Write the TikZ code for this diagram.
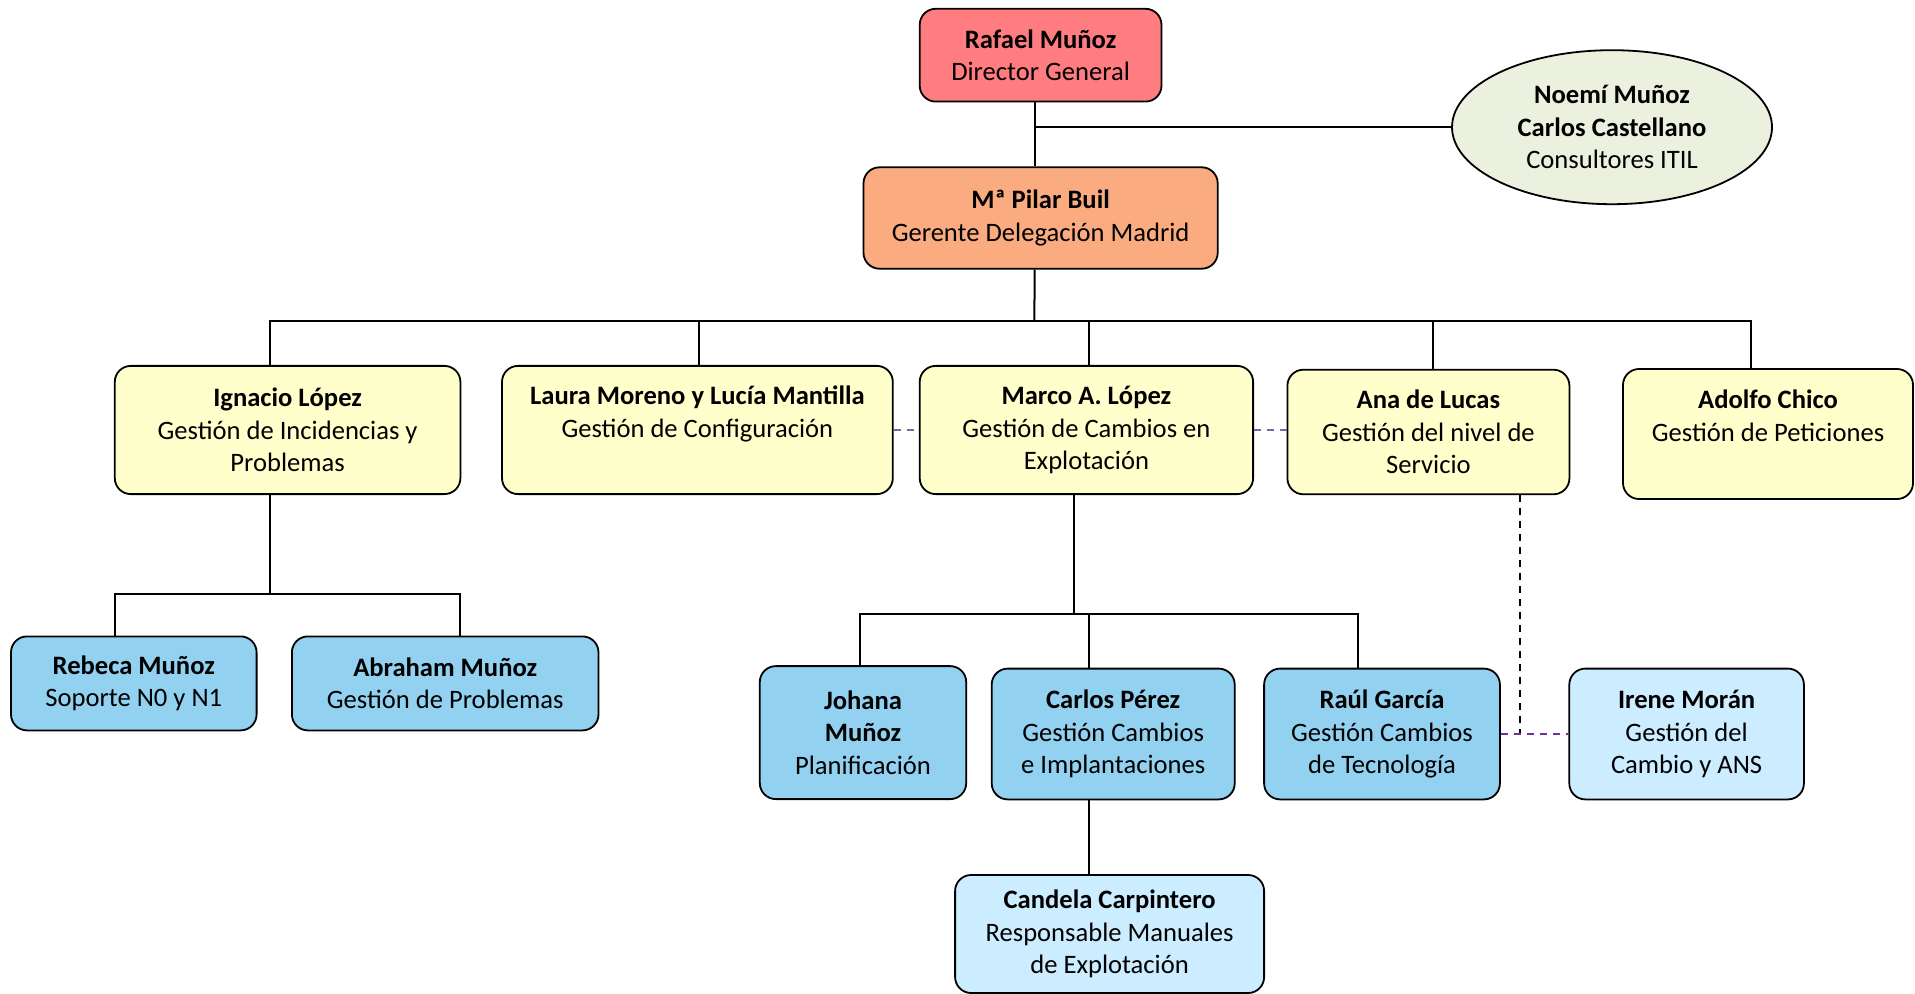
\documentclass[tikz,border=0pt]{standalone}
\usepackage{fontspec}
\setmainfont{Carlito}
\usepackage{tikz}
\usetikzlibrary{positioning,shapes.geometric}

\definecolor{rojoDir}{HTML}{FF7C80}
\definecolor{naranja}{HTML}{FAAC80}
\definecolor{verdeCons}{HTML}{EBF1DE}
\definecolor{amarillo}{HTML}{FFFFCC}
\definecolor{azulOsc}{HTML}{93D1F1}
\definecolor{azulCla}{HTML}{CCECFF}
\definecolor{morado}{HTML}{8064A2}
\definecolor{moradoOsc}{HTML}{7030A0}

\begin{document}
\begin{tikzpicture}[x=1pt, y=-1pt,
    caja/.style={draw, rectangle, rounded corners=8pt, line width=0.9pt, align=center, inner sep=2pt, font=\fontsize{13.3}{16.2}\selectfont},
    linea/.style={line width=1pt},
    enlace/.style={line width=1pt, dash pattern=on 3.5pt off 3pt, morado}]
    \useasboundingbox (0,0) rectangle (957.5,497);
    % Dirección
    \node[caja, fill=rojoDir, minimum width=120.9pt, minimum height=46.4pt] (rafael) at (520.3,27.6) {\textbf{Rafael Muñoz}\\Director General};
    \node[caja, fill=naranja, minimum width=177.1pt, minimum height=50.7pt] (pilar) at (520.3,109) {\textbf{Mª Pilar Buil}\\Gerente Delegación Madrid};
    % Consultores externos
    \node[caja, ellipse, fill=verdeCons, inner sep=0pt, minimum width=160pt, minimum height=77pt] (consult) at (806,63.6) {\textbf{Noemí Muñoz}\\\textbf{Carlos Castellano}\\Consultores ITIL};
    % Responsables de proceso
    \node[caja, fill=amarillo, minimum width=172.8pt, minimum height=64.1pt] (ignacio) at (143.8,215) {\textbf{Ignacio López}\\Gestión de Incidencias y\\Problemas};
    \node[caja, fill=amarillo, minimum width=195.4pt, minimum height=64.1pt] (laura) at (348.7,215) {\textbf{Laura Moreno y Lucía Mantilla}\\Gestión de Configuración\\\vphantom{p}};
    \node[caja, fill=amarillo, minimum width=166.7pt, minimum height=64.1pt] (marco) at (543.2,215) {\textbf{Marco A. López}\\Gestión de Cambios en\\Explotación};
    \node[caja, fill=amarillo, minimum width=141pt, minimum height=62.3pt] (ana) at (714.2,216) {\textbf{Ana de Lucas}\\Gestión del nivel de\\Servicio};
    \node[caja, fill=amarillo, minimum width=145pt, minimum height=65pt] (adolfo) at (884,217) {\textbf{Adolfo Chico}\\Gestión de Peticiones\\\vphantom{p}};
    % Equipo de Ignacio
    \node[caja, fill=azulOsc, minimum width=122.8pt, minimum height=47pt] (rebeca) at (66.9,341.7) {\textbf{Rebeca Muñoz}\\Soporte N0 y N1};
    \node[caja, fill=azulOsc, minimum width=153.3pt, minimum height=47pt] (abraham) at (222.6,341.7) {\textbf{Abraham Muñoz}\\Gestión de Problemas};
    % Equipo de Marco
    \node[caja, fill=azulOsc, minimum width=103.2pt, minimum height=66.5pt] (johana) at (431.5,366.3) {\textbf{Johana}\\\textbf{Muñoz}\\Planificación};
    \node[caja, fill=azulOsc, minimum width=121.5pt, minimum height=65.4pt] (carlos) at (556.6,367) {\textbf{Carlos Pérez}\\Gestión Cambios\\e Implantaciones};
    \node[caja, fill=azulOsc, minimum width=117.9pt, minimum height=65.4pt] (raul) at (691,367) {\textbf{Raúl García}\\Gestión Cambios\\de Tecnología};
    \node[caja, fill=azulCla, minimum width=117.3pt, minimum height=65.4pt] (irene) at (843.3,367) {\textbf{Irene Morán}\\Gestión del\\Cambio y ANS};
    \node[caja, fill=azulCla, minimum width=154.5pt, minimum height=59pt] (candela) at (554.8,467) {\textbf{Candela Carpintero}\\Responsable Manuales\\de Explotación};

    % Líneas de dependencia
    \coordinate (troncoA) at ([xshift=-3pt]rafael.south);
    \draw[linea] (troncoA) -- ([xshift=-3pt]pilar.north);
    \draw[linea] (consult.west) -- (consult.west -| troncoA);
    \coordinate (busA) at (517.2,160.6);
    \draw[linea] ([xshift=-3pt]pilar.south) -- (busA);
    \draw[linea] ([xshift=-8.8pt]ignacio.north) |- (busA) -| ([xshift=-8.3pt]adolfo.north);
    \foreach \n/\d in {laura/0.6,marco/1.5,ana/2.1}
        \draw[linea] ([xshift=\d pt]\n.north) -- ([xshift=\d pt]\n.north |- busA);
    \coordinate (busB) at (135,296.8);
    \draw[linea] ([xshift=-8.8pt]ignacio.south) -- (busB);
    \draw[linea] ([xshift=-9.5pt]rebeca.north) |- (busB) -| ([xshift=7.6pt]abraham.north);
    \coordinate (busC) at (536.8,307.2);
    \draw[linea] ([xshift=-6.4pt]marco.south) -- (busC);
    \draw[linea] ([xshift=-1.6pt]johana.north) |- (busC) -| ([xshift=-12pt]raul.north);
    \coordinate (bajaC) at ([xshift=-11.9pt]carlos.north);
    \draw[linea] (bajaC) -- (bajaC |- busC);
    \coordinate (bajaD) at ([xshift=-11.9pt]carlos.south);
    \draw[linea] (bajaD) -- (bajaD |- candela.north);
    % Relaciones funcionales
    \draw[enlace] (laura.east) -- (marco.west);
    \draw[enlace] (marco.east) -- (marco.east -| ana.west);
    \coordinate (anaPie) at ([xshift=46pt]ana.south);
    \draw[enlace, black] (anaPie) -- (anaPie |- raul.east);
    \draw[enlace, moradoOsc] (raul.east) -- (irene.west);
\end{tikzpicture}
\end{document}
